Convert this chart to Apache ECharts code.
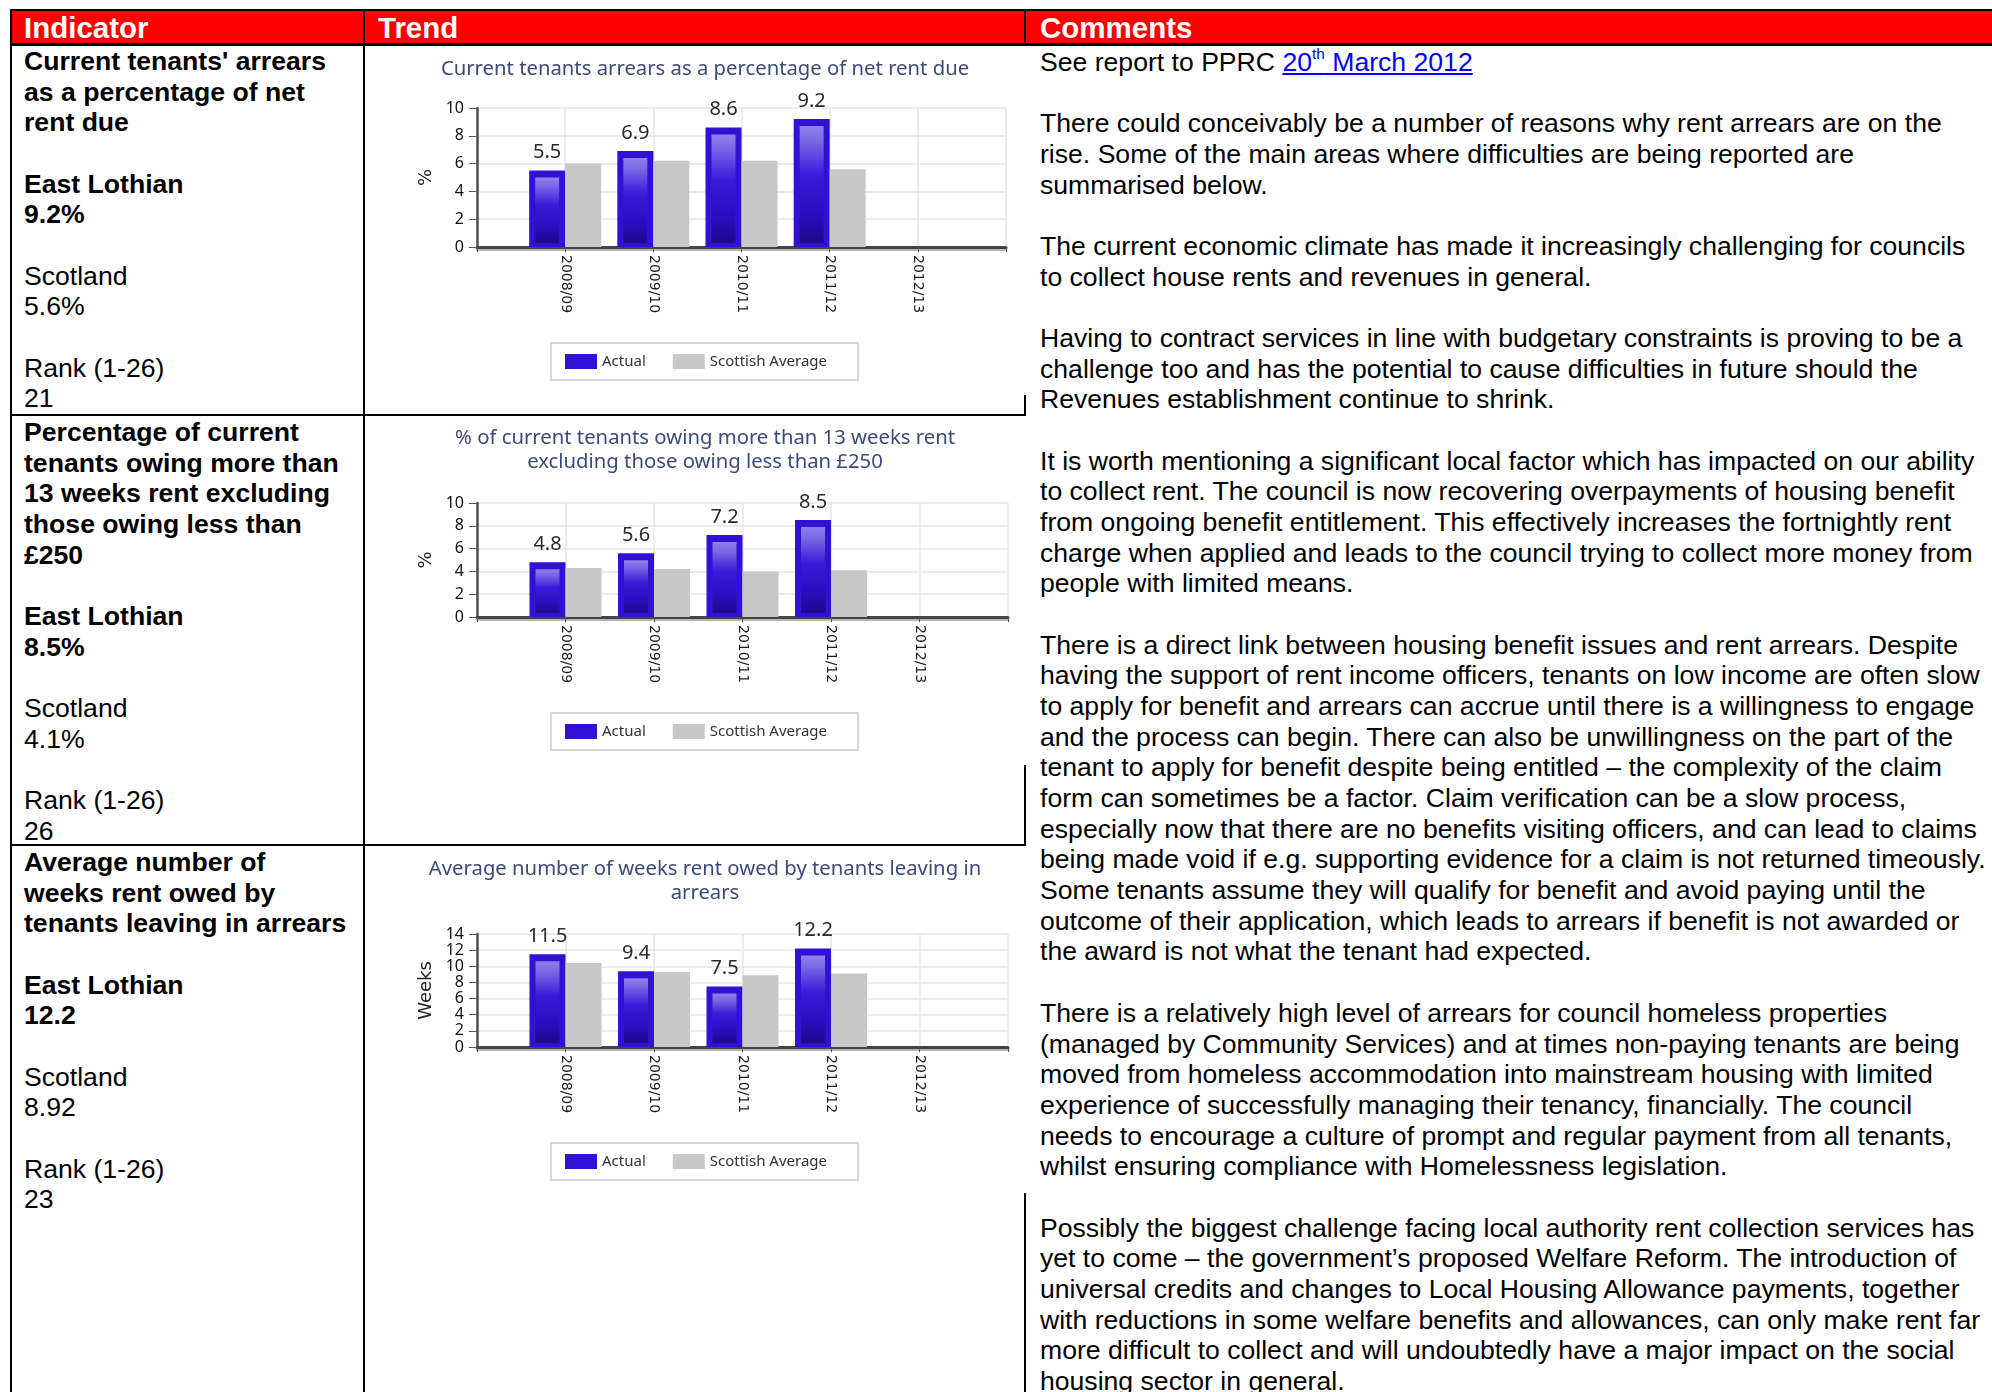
<!DOCTYPE html>
<html>
<head>
<meta charset="utf-8">
<title>Rent arrears indicators</title>
<script src="https://cdn.jsdelivr.net/npm/echarts@6/dist/echarts.min.js"></script>
<style>
  html, body { margin: 0; padding: 0; background: #fff; }
  body { width: 1992px; height: 1392px; overflow: hidden; position: relative;
         font-family: "Liberation Sans", Arial, sans-serif; color: #000; }
  .rule { position: absolute; background: #000; }
  .hdr { position: absolute; background: #ff0000; }
  .htxt { position: absolute; top: 12px; font-weight: bold; font-size: 29.5px; line-height: 32px;
          color: #fff; white-space: nowrap; }
  .cell { position: absolute; font-size: 26.6px; line-height: 30.67px; white-space: nowrap; }
  .cell b { font-weight: bold; }
  a { color: #0000ff; text-decoration: underline; }
  sup { font-size: 58%; line-height: 0; vertical-align: 0.75em; }
  #charts { position: absolute; left: 0; top: 0; width: 1992px; height: 1392px; }
</style>
</head>
<body>
<!-- table frame -->
<div class="hdr" style="left:10px;top:10px;width:1982px;height:34px;"></div>
<div class="rule" style="left:10px;top:9px;width:1982px;height:2px;"></div>
<div class="rule" style="left:10px;top:43px;width:1982px;height:3px;"></div>
<div class="rule" style="left:10px;top:9px;width:2px;height:1383px;"></div>
<div class="rule" style="left:363px;top:9px;width:2px;height:1383px;"></div>
<div class="rule" style="left:1024px;top:9px;width:2px;height:37px;"></div>
<div class="rule" style="left:1024px;top:395px;width:2px;height:21px;"></div>
<div class="rule" style="left:1024px;top:765px;width:2px;height:81px;"></div>
<div class="rule" style="left:1024px;top:1193px;width:2px;height:199px;"></div>
<div class="rule" style="left:10px;top:414px;width:1016px;height:2px;"></div>
<div class="rule" style="left:10px;top:844px;width:1016px;height:2px;"></div>

<div class="htxt" style="left:24px;">Indicator</div>
<div class="htxt" style="left:378px;">Trend</div>
<div class="htxt" style="left:1040px;">Comments</div>

<!-- indicator column -->
<div class="cell" style="left:24px;top:46px;">
<b>Current tenants' arrears</b><br><b>as a percentage of net</b><br><b>rent due</b><br><br>
<b>East Lothian</b><br><b>9.2%</b><br><br>
Scotland<br>5.6%<br><br>
Rank (1-26)<br>21
</div>
<div class="cell" style="left:24px;top:417px;">
<b>Percentage of current</b><br><b>tenants owing more than</b><br><b>13 weeks rent excluding</b><br><b>those owing less than</b><br><b>£250</b><br><br>
<b>East Lothian</b><br><b>8.5%</b><br><br>
Scotland<br>4.1%<br><br>
Rank (1-26)<br>26
</div>
<div class="cell" style="left:24px;top:847px;">
<b>Average number of</b><br><b>weeks rent owed by</b><br><b>tenants leaving in arrears</b><br><br>
<b>East Lothian</b><br><b>12.2</b><br><br>
Scotland<br>8.92<br><br>
Rank (1-26)<br>23
</div>

<!-- comments column -->
<div class="cell" style="left:1040px;top:47px;">
See report to PPRC <a>20<sup>th</sup> March 2012</a><br><br>
There could conceivably be a number of reasons why rent arrears are on the<br>
rise. Some of the main areas where difficulties are being reported are<br>
summarised below.<br><br>
The current economic climate has made it increasingly challenging for councils<br>
to collect house rents and revenues in general.<br><br>
Having to contract services in line with budgetary constraints is proving to be a<br>
challenge too and has the potential to cause difficulties in future should the<br>
Revenues establishment continue to shrink.<br><br>
It is worth mentioning a significant local factor which has impacted on our ability<br>
to collect rent. The council is now recovering overpayments of housing benefit<br>
from ongoing benefit entitlement. This effectively increases the fortnightly rent<br>
charge when applied and leads to the council trying to collect more money from<br>
people with limited means.<br><br>
There is a direct link between housing benefit issues and rent arrears. Despite<br>
having the support of rent income officers, tenants on low income are often slow<br>
to apply for benefit and arrears can accrue until there is a willingness to engage<br>
and the process can begin. There can also be unwillingness on the part of the<br>
tenant to apply for benefit despite being entitled – the complexity of the claim<br>
form can sometimes be a factor. Claim verification can be a slow process,<br>
especially now that there are no benefits visiting officers, and can lead to claims<br>
being made void if e.g. supporting evidence for a claim is not returned timeously.<br>
Some tenants assume they will qualify for benefit and avoid paying until the<br>
outcome of their application, which leads to arrears if benefit is not awarded or<br>
the award is not what the tenant had expected.<br><br>
There is a relatively high level of arrears for council homeless properties<br>
(managed by Community Services) and at times non-paying tenants are being<br>
moved from homeless accommodation into mainstream housing with limited<br>
experience of successfully managing their tenancy, financially. The council<br>
needs to encourage a culture of prompt and regular payment from all tenants,<br>
whilst ensuring compliance with Homelessness legislation.<br><br>
Possibly the biggest challenge facing local authority rent collection services has<br>
yet to come – the government’s proposed Welfare Reform. The introduction of<br>
universal credits and changes to Local Housing Allowance payments, together<br>
with reductions in some welfare benefits and allowances, can only make rent far<br>
more difficult to collect and will undoubtedly have a major impact on the social<br>
housing sector in general.
</div>

<div id="charts"></div>

<script>
// Financial years shown on every trend chart
const years = ['2008/09', '2009/10', '2010/11', '2011/12', '2012/13'];

// Current tenants' arrears as % of net rent due
const arrearsActual   = [5.5, 6.9, 8.6, 9.2, null];
const arrearsScotland = [6.0, 6.2, 6.2, 5.6, null];

// % of current tenants owing more than 13 weeks rent (excl. < £250)
const owingActual   = [4.8, 5.6, 7.2, 8.5, null];
const owingScotland = [4.3, 4.2, 4.0, 4.1, null];

// Average weeks rent owed by tenants leaving in arrears
const weeksActual   = [11.5, 9.4, 7.5, 12.2, null];
const weeksScotland = [10.4, 9.3, 8.9, 9.1, null];

// Value axis tick ranges
const pctAxisMax = 10;
const weeksAxisMax = 14;
const axisStep = 2;

const seriesNames = ['Actual', 'Scottish Average'];

// Layout of the three panels inside the Trend column
const panels = [
  { title: 'Current tenants arrears as a percentage of net rent due',
    titleTop: 57, unit: '%', max: pctAxisMax,
    actual: arrearsActual, scot: arrearsScotland,
    grid: { left: 477, top: 108, width: 529, height: 139 }, legendTop: 343 },
  { title: '% of current tenants owing more than 13 weeks rent\nexcluding those owing less than £250',
    titleTop: 426, unit: '%', max: pctAxisMax,
    actual: owingActual, scot: owingScotland,
    grid: { left: 477, top: 503, width: 531, height: 114 }, legendTop: 713 },
  { title: 'Average number of weeks rent owed by tenants leaving in\narrears',
    titleTop: 857, unit: 'Weeks', max: weeksAxisMax,
    actual: weeksActual, scot: weeksScotland,
    grid: { left: 477, top: 934, width: 531, height: 113 }, legendTop: 1143 }
];

const BAR_W = 36;
// blank end slots put the years on interior ticks, like the original layout
const axisCats = [''].concat(years, ['']);
const pad = arr => [null].concat(arr, [null]);

const innerGlow = {
  type: 'linear', x: 0, y: 0, x2: 0, y2: 1,
  colorStops: [
    { offset: 0, color: '#8f80ea' },
    { offset: 0.12, color: '#7c6ae6' },
    { offset: 0.42, color: '#3a1ad9' },
    { offset: 0.75, color: '#2a0dbf' },
    { offset: 1, color: '#1f098d' }
  ]
};

function glowItem(params, api) {
  const v = api.value(1);
  if (v == null || isNaN(v)) return null;
  const top = api.coord([api.value(0), v]);
  const base = api.coord([api.value(0), 0]);
  const x = top[0] - BAR_W + 6;
  const y = top[1] + 7;
  const h = base[1] - 4 - y;
  if (h <= 0) return null;
  return { type: 'rect', shape: { x: x, y: y, width: BAR_W - 12, height: h },
           style: { fill: innerGlow } };
}

const option = {
  animation: false,
  backgroundColor: 'transparent',
  title: panels.map(p => ({
    text: p.title, left: 705, top: p.titleTop, textAlign: 'center', padding: 0,
    textStyle: { fontFamily: 'Noto Sans', fontSize: 20.3, fontWeight: 'normal',
                 color: '#3c4b7a', lineHeight: 24 }
  })),
  legend: panels.map(p => ({
    data: seriesNames, left: 551, top: p.legendTop, orient: 'horizontal',
    icon: 'rect', itemWidth: 32, itemHeight: 15, itemGap: 27,
    padding: [11, 31, 11, 14], borderColor: '#d6d6d6', borderWidth: 2,
    textStyle: { fontFamily: 'Noto Sans', fontSize: 15, color: '#333' }
  })),
  grid: panels.map(p => Object.assign({}, p.grid)),
  xAxis: panels.map((p, i) => ({
    type: 'category', gridIndex: i, data: axisCats, boundaryGap: false,
    axisLine: { lineStyle: { color: '#454545', width: 3,
                shadowColor: 'rgba(0,0,0,0.3)', shadowOffsetY: 2, shadowBlur: 1 } },
    axisTick: { show: true, interval: 0, length: 5, lineStyle: { color: '#555' } },
    axisLabel: { interval: 0, rotate: -90, margin: 8, fontFamily: 'DejaVu Sans',
                 fontSize: 14, color: '#1a1a1a' },
    splitLine: { show: true, interval: 0, lineStyle: { color: '#e6e6e6', width: 1.5 } }
  })),
  yAxis: panels.map((p, i) => ({
    type: 'value', gridIndex: i, min: 0, max: p.max, interval: axisStep,
    name: p.unit, nameLocation: 'middle', nameGap: 42, nameRotate: 90,
    nameTextStyle: { fontFamily: 'DejaVu Sans', fontSize: 18, color: '#222' },
    axisLine: { show: true, lineStyle: { color: '#505050', width: 2.5 } },
    axisTick: { show: true, length: 8, lineStyle: { color: '#555' } },
    axisLabel: { margin: 13, fontFamily: 'Noto Sans', fontSize: 16, color: '#111' },
    splitLine: { lineStyle: { color: '#e6e6e6', width: 1.5 } }
  })),
  series: panels.flatMap((p, i) => [
    { type: 'bar', name: seriesNames[0], xAxisIndex: i, yAxisIndex: i,
      data: pad(p.actual), barWidth: BAR_W, barGap: '0%', z: 2,
      itemStyle: { color: '#3311d4' },
      label: { show: true, position: 'top', distance: 8, fontFamily: 'Noto Sans',
               fontSize: 20, color: '#2b2b2b' } },
    { type: 'bar', name: seriesNames[1], xAxisIndex: i, yAxisIndex: i,
      data: pad(p.scot), barWidth: BAR_W, barGap: '0%', z: 2,
      itemStyle: { color: '#c8c8c8' } },
    { type: 'custom', xAxisIndex: i, yAxisIndex: i, silent: true, z: 3,
      data: pad(p.actual).map((v, k) => [k, v]).filter(d => d[1] != null),
      renderItem: glowItem }
  ])
};

const chart = echarts.init(document.getElementById('charts'), null, { renderer: 'canvas' });
chart.setOption(option);
</script>
</body>
</html>
